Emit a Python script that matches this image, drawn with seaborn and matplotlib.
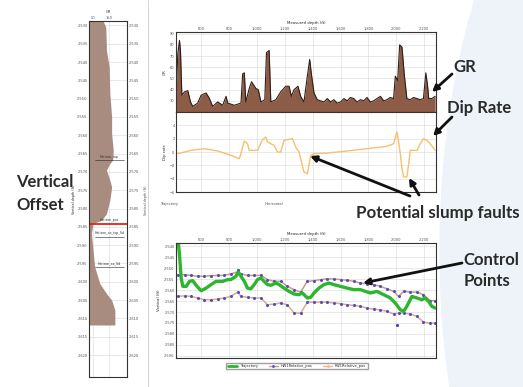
import pandas as pd
import matplotlib
matplotlib.use('Agg')
import matplotlib.pyplot as plt
import seaborn as sns
from matplotlib.patches import Ellipse, FancyArrowPatch
from matplotlib.lines import Line2D

sns.set_theme(style='white')
plt.rcParams['font.family'] = ['DejaVu Sans']

# ---- data ----
# left track: GR profile vs vertical depth
track_depth = [2528.8, 2530.5, 2536.8, 2541.4, 2548.6, 2555.0, 2559.5, 2564.1, 2566.8,
               2567.7, 2569.5, 2572.3, 2574.1, 2577.7, 2581.4, 2583.2, 2584.1, 2586.8,
               2591.4, 2595.9, 2600.5, 2603.2, 2605.0, 2607.7, 2611.4, 2611.8]
track_gr = [112, 129, 133, 150, 154, 165, 165, 175, 171, 154, 133, 154, 165, 154, 133,
            102, 50, 40, 50, 60, 92, 133, 165, 185, 185, 185]
horizon_names = ['Horizon_top', 'Horizon_pos', 'Horizon_xx_top_Sd', 'Horizon_xx_Sd']
horizon_depths = [2566.8, 2584.1, 2587.7, 2595.9]
track_ticks = list(range(2530, 2625, 5))

# GR vs measured depth
gr_depth = [421, 433, 445, 452, 462, 481, 505, 524, 540, 576, 600, 636, 660, 683, 719,
            755, 779, 791, 838, 886, 898, 910, 921, 945, 962, 993, 1010, 1029, 1057,
            1069, 1088, 1100, 1136, 1171, 1207, 1231, 1248, 1267, 1295, 1314, 1338,
            1362, 1379, 1391, 1410, 1433, 1457, 1481, 1505, 1529, 1552, 1576, 1600,
            1624, 1648, 1671, 1695, 1719, 1743, 1767, 1790, 1814, 1838, 1862, 1886,
            1910, 1933, 1957, 1981, 1993, 2010, 2024, 2041, 2057, 2076, 2100, 2124,
            2148, 2172, 2195, 2212, 2224, 2233, 2255, 2279]
gr_value = [38, 72, 84, 75, 35, 38, 39, 29, 25, 28, 35, 37, 32, 25, 29, 26, 34, 28, 26,
            28, 54, 55, 29, 41, 47, 41, 40, 29, 31, 73, 75, 29, 31, 38, 43, 43, 34, 40,
            43, 34, 29, 52, 67, 54, 37, 31, 30, 29, 32, 29, 31, 28, 29, 32, 30, 33, 32,
            29, 31, 30, 33, 29, 30, 32, 34, 30, 31, 33, 32, 52, 48, 80, 78, 54, 32, 31,
            33, 32, 31, 32, 55, 44, 32, 32, 34]

# dip rate vs measured depth
dip_depth = [433, 529, 624, 719, 814, 874, 886, 910, 933, 945, 1005, 1040, 1064, 1076,
             1124, 1148, 1171, 1195, 1255, 1279, 1302, 1326, 1338, 1362, 1374, 1386,
             1410, 1505, 1648, 1790, 1933, 1981, 2005, 2017, 2029, 2041, 2053, 2076,
             2088, 2100, 2148, 2172, 2195, 2219, 2243, 2279]
dip_value = [-0.25, 0.25, 0.5, 0.15, -0.5, -1.0, -0.25, 1.65, 1.25, 0.25, 0.25, 1.85,
             2.25, 1.5, 1.0, 0.0, 0.0, 1.75, 2.0, 0.75, 0.0, -2.0, -3.0, -3.25, -2.0,
             -0.5, -0.25, -0.15, 0.15, 0.5, 0.85, 1.25, 3.0, 1.5, -0.25, -2.5, -3.75,
             -3.75, -2.0, 0.25, 0.25, 1.25, 2.0, 1.75, 1.25, 0.25]

# bottom panel: trajectory and control-point horizons (TVD)
traj_depth = [433, 445, 457, 469, 493, 517, 540, 564, 600, 636, 671, 707, 755, 791, 814,
              850, 867, 886, 910, 933, 957, 981, 1005, 1029, 1052, 1076, 1100, 1136,
              1160, 1195, 1231, 1267, 1302, 1326, 1362, 1386, 1410, 1445, 1481, 1517,
              1552, 1600, 1648, 1695, 1743, 1779, 1814, 1862, 1910, 1957, 1993, 2029,
              2053, 2076, 2112, 2148, 2183, 2207, 2231, 2255, 2279]
traj_tvd = [2536.0, 2543.8, 2554.5, 2558.3, 2558.3, 2556.0, 2555.7, 2557.8, 2560.3,
            2559.1, 2557.5, 2556.0, 2556.0, 2555.2, 2555.2, 2553.7, 2551.7, 2553.7,
            2556.0, 2559.1, 2559.4, 2557.5, 2555.2, 2554.5, 2556.0, 2557.5, 2557.8,
            2556.8, 2557.5, 2559.1, 2560.6, 2561.8, 2562.1, 2561.3, 2563.6, 2563.3,
            2561.3, 2559.1, 2557.5, 2556.8, 2557.5, 2558.3, 2559.1, 2559.8, 2559.8,
            2560.6, 2561.3, 2560.6, 2562.1, 2563.6, 2565.9, 2569.0, 2569.7, 2567.4,
            2562.9, 2563.6, 2564.4, 2563.6, 2565.1, 2567.4, 2568.2]
ctrl_depth = [433, 481, 529, 576, 624, 671, 719, 767, 814, 862, 886, 933, 981, 1029,
              1076, 1124, 1171, 1219, 1267, 1314, 1362, 1410, 1457, 1505, 1552, 1600,
              1648, 1695, 1743, 1790, 1838, 1886, 1933, 1981, 2017, 2053, 2100, 2148,
              2195, 2243, 2279]
upper_tvd = [2553.0, 2553.0, 2553.3, 2553.7, 2553.7, 2553.4, 2553.3, 2553.3, 2552.6,
             2551.7, 2552.6, 2553.3, 2553.3, 2553.3, 2555.2, 2556.0, 2556.0, 2558.3,
             2559.8, 2560.9, 2556.0, 2555.7, 2555.2, 2554.9, 2554.9, 2555.2, 2555.5,
             2556.0, 2556.8, 2557.1, 2557.5, 2558.3, 2559.4, 2560.6, 2562.9, 2560.6,
             2560.9, 2560.9, 2562.1, 2564.8, 2564.8]
lower_tvd = [2562.9, 2562.6, 2562.9, 2563.6, 2564.4, 2564.4, 2564.1, 2563.6, 2562.9,
             2560.9, 2562.9, 2563.3, 2563.6, 2563.6, 2566.7, 2566.4, 2565.9, 2566.7,
             2570.5, 2570.5, 2565.5, 2565.5, 2565.5, 2565.5, 2565.9, 2566.2, 2566.7,
             2567.0, 2567.4, 2568.2, 2568.7, 2569.0, 2569.7, 2570.9, 2570.5, 2570.5,
             2570.9, 2572.0, 2574.6, 2575.1, 2575.1]
extra_depth = [867, 2005]
extra_tvd = [2550.7, 2576.1]

md_ticks = [600, 800, 1000, 1200, 1400, 1600, 1800, 2000, 2200]
tvd_ticks = list(range(2540, 2595, 5))
legend_labels = ['Trajectory', 'HW1Relative_pos', 'FW1Relative_pos']

# ---- figure ----
W, H = 523, 387
fig = plt.figure(figsize=(W / 100, H / 100), dpi=100)


def box(l, t, r, b):
    return [l / W, 1 - b / H, (r - l) / W, (b - t) / H]


def fpos(x, y):
    return (x / W, 1 - y / H)


# pale backdrop on the right
fig.patches.append(Ellipse(fpos(700, 250), 520 / W, 1000 / H, transform=fig.transFigure,
                           color='#edf3f9', zorder=0))
fig.add_artist(Line2D([148 / W, 148 / W], [0, 1], color='#cfcfcf', lw=0.6))

tick_kw = dict(labelsize=2.6, length=0, pad=1, colors='#555555')


def style(ax):
    ax.grid(True, color='#d9d9d9', lw=0.4)
    for s in ax.spines.values():
        s.set_color('#333333')
        s.set_linewidth(0.8)
    ax.tick_params(**tick_kw)


# left track
ax_t = fig.add_axes(box(89, 21, 127, 377))
ax_t.fill_betweenx(track_depth, 25, track_gr, color='#a98c80', lw=0)
ax_t.axhline(horizon_depths[1], color='#e8201c', lw=1.3)
for name, d in zip(horizon_names, horizon_depths):
    if name != 'Horizon_pos':
        ax_t.plot([60, 240], [d, d], color='#222222', lw=0.4)
    ax_t.text(150, d - 0.4, name, fontsize=2.3, ha='center', va='bottom', color='#333333')
ax_t.set_xlim(25, 260)
ax_t.set_ylim(2626, 2528.8)
ax_t.set_yticks(track_ticks)
ax_t.set_yticklabels([f'{v:,}' for v in track_ticks])
ax_t.xaxis.tick_top()
ax_t.set_xticks([50, 150])
style(ax_t)
ax_t.tick_params(labelright=True, labelleft=True)
ax_t.set_xlabel('GR', fontsize=2.6, labelpad=2)
ax_t.xaxis.set_label_position('top')
ax_t.set_ylabel('Vertical depth (ft)', fontsize=2.4, labelpad=1)
fig.text(*fpos(146, 200), 'Vertical depth (ft)', fontsize=2.4, rotation=90,
         ha='center', va='center', color='#555555')

# GR panel
ax_g = fig.add_axes(box(176, 32, 436, 112))
ax_g.fill_between(gr_depth, 20, gr_value, color='#8c5c47', lw=0)
sns.lineplot(x=gr_depth, y=gr_value, ax=ax_g, color='#2e2019', lw=0.8)
ax_g.set_xlim(420, 2285)
ax_g.set_ylim(20, 91.5)
ax_g.set_yticks([30, 40, 50, 60, 70, 80, 90])
ax_g.xaxis.tick_top()
ax_g.set_xticks(md_ticks)
ax_g.set_xticklabels([f'{v:,}' for v in md_ticks])
style(ax_g)
ax_g.set_xlabel('Measured depth (ft)', fontsize=2.8, labelpad=2)
ax_g.xaxis.set_label_position('top')
ax_g.set_ylabel('GR', fontsize=2.8, labelpad=2)

# dip-rate panel
ax_d = fig.add_axes(box(176, 112, 436, 192))
sns.lineplot(x=dip_depth, y=dip_value, ax=ax_d, color='#f7c06a', lw=1.0)
ax_d.set_xlim(420, 2285)
ax_d.set_ylim(-6, 6)
ax_d.set_yticks([-6, -4, -2, 0, 2, 4])
ax_d.set_xticks(md_ticks)
ax_d.set_xticklabels([])
style(ax_d)
ax_d.set_ylabel('Dip rate', fontsize=2.8, labelpad=2)
fig.text(*fpos(160, 204), 'Trajectory', fontsize=2.6, color='#555555', va='center')
fig.text(*fpos(265, 204), 'Horizontal', fontsize=2.6, color='#555555', va='center')

# bottom panel
ax_b = fig.add_axes(box(176, 243, 436, 358))
sns.lineplot(x=ctrl_depth, y=upper_tvd, ax=ax_b, color='#c99a88', lw=1.1,
             marker='o', markersize=2.2, markerfacecolor='#5050b8', markeredgewidth=0)
sns.lineplot(x=ctrl_depth, y=lower_tvd, ax=ax_b, color='#e0a890', lw=1.1,
             marker='o', markersize=2.2, markerfacecolor='#5050b8', markeredgewidth=0)
sns.scatterplot(x=extra_depth, y=extra_tvd, ax=ax_b, color='#4040b0', s=5, lw=0)
sns.lineplot(x=traj_depth, y=traj_tvd, ax=ax_b, color='#2db52d', lw=2.4)
ax_b.set_xlim(420, 2285)
ax_b.set_ylim(2591, 2538.5)
ax_b.set_yticks(tvd_ticks)
ax_b.set_yticklabels([f'{v:,}' for v in tvd_ticks])
ax_b.xaxis.tick_top()
ax_b.set_xticks(md_ticks)
ax_b.set_xticklabels([f'{v:,}' for v in md_ticks])
style(ax_b)
ax_b.set_xlabel('Measured depth (ft)', fontsize=2.8, labelpad=2)
ax_b.xaxis.set_label_position('top')
ax_b.set_ylabel('Vertical (ft)', fontsize=2.8, labelpad=2)

handles = [Line2D([], [], color='#2db52d', lw=2),
           Line2D([], [], color='#c99a88', lw=1, marker='o', markersize=2,
                  markerfacecolor='#5050b8', markeredgewidth=0),
           Line2D([], [], color='#f2b98a', lw=1, marker='o', markersize=2,
                  markerfacecolor='#f2b98a', markeredgewidth=0)]
fig.legend(handles, legend_labels, loc='center', bbox_to_anchor=fpos(297, 366), ncol=3,
           fontsize=2.6, frameon=True, edgecolor='#888888', fancybox=False,
           handlelength=2.5, columnspacing=3, borderpad=0.4)

# callouts
big = dict(fontsize=12, fontweight='bold', color='#2a2a2a', family=['Lato', 'DejaVu Sans'])
fig.text(*fpos(465, 67), 'GR', ha='center', va='center', **big)
fig.text(*fpos(479, 108), 'Dip Rate', ha='center', va='center', **big)
fig.text(*fpos(356, 213), 'Potential slump faults', ha='left', va='center',
         **{**big, 'fontsize': 12.2})
fig.text(*fpos(491, 260), 'Control', ha='center', va='center', **big)
fig.text(*fpos(487, 281), 'Points', ha='center', va='center', **big)
fig.text(*fpos(16, 182), 'Vertical', ha='left', va='center', **big)
fig.text(*fpos(16, 205), 'Offset', ha='left', va='center', **big)


def arrow(x0, y0, x1, y1):
    fig.add_artist(FancyArrowPatch(fpos(x0, y0), fpos(x1, y1), transform=fig.transFigure,
                                   arrowstyle='-|>', mutation_scale=9, lw=2.0,
                                   color='#111111', shrinkA=0, shrinkB=0))


arrow(452, 74, 432, 92)
arrow(452, 117, 433, 136)
arrow(410, 196, 310, 156)
arrow(419, 195, 409, 178)
arrow(462, 263, 363, 283)

fig.savefig('out.png', dpi=100)
